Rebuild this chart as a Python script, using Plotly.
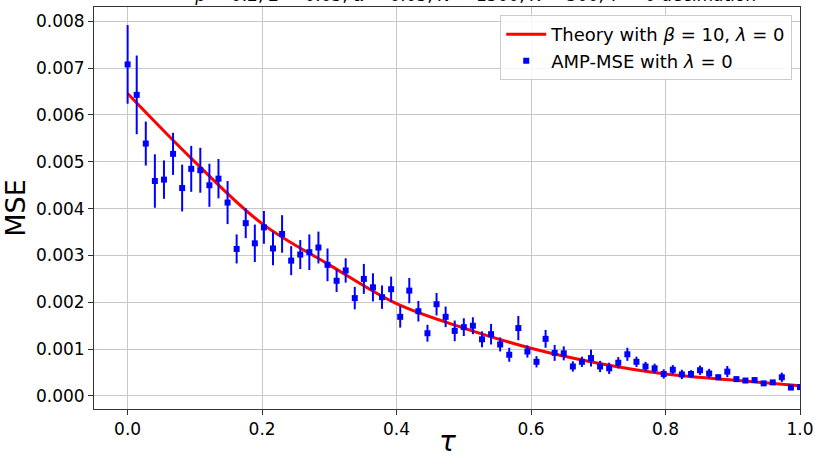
import numpy as np
import plotly.graph_objects as go

# AMP-MSE data (75 points, tau from 0 to 1)
tau = np.linspace(0, 1, 75)
mse = [0.00708, 0.00643, 0.00539, 0.00459, 0.00462, 0.00517, 0.00444, 0.00485, 0.00482, 0.00450,
       0.00464, 0.00413, 0.00314, 0.00369, 0.00326, 0.00360, 0.00315, 0.00346, 0.00289, 0.00302,
       0.00307, 0.00317, 0.00280, 0.00246, 0.00268, 0.00209, 0.00250, 0.00232, 0.00211, 0.00228,
       0.00169, 0.00225, 0.00181, 0.00134, 0.00196, 0.00169, 0.00139, 0.00147, 0.00150, 0.00121,
       0.00132, 0.00110, 0.00088, 0.00145, 0.00095, 0.00073, 0.00122, 0.00092, 0.00091, 0.00063,
       0.00073, 0.00081, 0.00063, 0.00059, 0.00071, 0.00089, 0.00073, 0.00063, 0.00059, 0.00047,
       0.00056, 0.00046, 0.00047, 0.00055, 0.00048, 0.00040, 0.00052, 0.00036, 0.00033, 0.00034,
       0.00027, 0.00029, 0.00040, 0.00018, 0.00019]
mse_err = [0.00084, 0.00084, 0.00047, 0.00057, 0.00041, 0.00045, 0.00050, 0.00049, 0.00048, 0.00046,
           0.00042, 0.00046, 0.00031, 0.00032, 0.00040, 0.00035, 0.00036, 0.00040, 0.00031, 0.00031,
           0.00038, 0.00034, 0.00035, 0.00024, 0.00026, 0.00024, 0.00032, 0.00030, 0.00025, 0.00027,
           0.00023, 0.00027, 0.00022, 0.00018, 0.00024, 0.00022, 0.00022, 0.00019, 0.00018, 0.00017,
           0.00022, 0.00015, 0.00015, 0.00026, 0.00013, 0.00012, 0.00019, 0.00017, 0.00015, 0.00011,
           0.00011, 0.00018, 0.00012, 0.00012, 0.00012, 0.00014, 0.00011, 0.00010, 0.00010, 0.00010,
           0.00010, 0.00010, 0.00008, 0.00010, 0.00010, 0.00006, 0.00012, 0.00005, 0.00005, 0.00005,
           0.00005, 0.00005, 0.00010, 0.00005, 0.00005]

# Theory curve, read at tau = 0, 0.1, ..., 1.0
theory_tau = [0.0, 0.1, 0.2, 0.3, 0.4, 0.5, 0.6, 0.7, 0.8, 0.9, 1.0]
theory_mse = [0.00646, 0.00500, 0.00368, 0.00280, 0.00197, 0.00145, 0.00102, 0.00070, 0.00047, 0.00034, 0.00022]

x_ticks = [0.0, 0.2, 0.4, 0.6, 0.8, 1.0]
x_tick_labels = ["0.0", "0.2", "0.4", "0.6", "0.8", "1.0"]
y_ticks = [0.000, 0.001, 0.002, 0.003, 0.004, 0.005, 0.006, 0.007, 0.008]
y_tick_labels = ["0.000", "0.001", "0.002", "0.003", "0.004", "0.005", "0.006", "0.007", "0.008"]

FONT = "DejaVu Sans"

fig = go.Figure()
fig.add_trace(go.Scatter(
    x=theory_tau, y=theory_mse, mode="lines", line=dict(color="#ff0000", width=3, shape="spline"),
    name="Theory with <i>β</i> = 10, <i>λ</i> = 0"))
fig.add_trace(go.Scatter(
    x=tau, y=mse, mode="markers",
    marker=dict(color="#0000ff", symbol="square", size=6),
    error_y=dict(type="data", array=mse_err, color="#0000ff", thickness=2, width=0),
    name="AMP-MSE with <i>λ</i> = 0"))

axis_common = dict(
    showgrid=True, gridcolor="#c8c8c8", gridwidth=1,
    showline=True, linecolor="#333333", linewidth=1, mirror=True,
    ticks="outside", ticklen=5, tickcolor="#333333", tickwidth=1,
    zeroline=False, automargin=False,
    tickfont=dict(family=FONT, size=17, color="#000000"),
)

fig.update_layout(
    width=815, height=459,
    margin=dict(l=94, r=15, t=7, b=50),
    plot_bgcolor="white", paper_bgcolor="white",
    font=dict(family=FONT, color="#000000"),
    xaxis=dict(range=[-0.05, 1.0], tickvals=x_ticks, ticktext=x_tick_labels, **axis_common),
    yaxis=dict(range=[-0.000278, 0.008306], tickvals=y_ticks, ticktext=y_tick_labels,
               title=dict(text="MSE", font=dict(family=FONT, size=27), standoff=6), **axis_common),
    legend=dict(x=0.989, xanchor="right", y=0.98, yanchor="top",
                bgcolor="rgba(255,255,255,0.85)", bordercolor="#cccccc", borderwidth=1,
                font=dict(family=FONT, size=18), tracegroupgap=2, itemwidth=40),
    showlegend=True,
)

# x-axis title (tau)
fig.add_annotation(
    text="<i>τ</i>", xref="paper", yref="paper", x=0.5, y=-0.1235, xanchor="center", yanchor="bottom",
    showarrow=False, borderpad=0, font=dict(family=FONT, size=28, color="#000000"))

fig.add_annotation(
    text="<i>ρ</i> = 0.2, <i>Σ</i> = 0.05, <i>α</i> = 0.05, <i>N</i> = 1500, <i>K</i> = 500, <i>T</i> = 0 decimation",
    xref="paper", yref="paper", x=0.54, y=1.0, xanchor="center", yanchor="bottom",
    showarrow=False, font=dict(family=FONT, size=17, color="#000000"))

fig.write_html("out.html")
